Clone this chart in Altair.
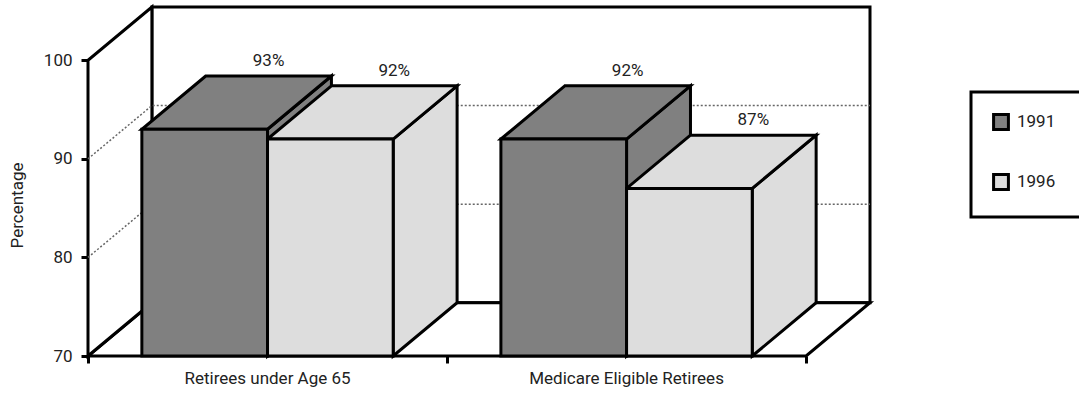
import altair as alt
import pandas as pd

# Survey values (percent of firms) per category and year
categories = ["Retirees under Age 65", "Medicare Eligible Retirees"]
years = ["1991", "1996"]
pct_1991 = [93, 92]
pct_1996 = [92, 87]
y_ticks = [70, 80, 90, 100]
grid_levels = [80, 90]
year_fills = ["#808080", "#dddddd"]

FONT = "Roboto"
FS = 17
TXT = "#222222"

# 3-D box geometry, in data units (x: category widths, y: percentage points)
Y_MIN, Y_MAX = 70, 100
DEPTH_X = 0.178
DEPTH_Y = 5.4
GAP = 0.15
BAR_W = 0.35
X_MAX = len(categories) + DEPTH_X

series = {"1991": pct_1991, "1996": pct_1996}

fronts, tops, sides, labels = [], [], [], []
for ci, cat in enumerate(categories):
    for yi, yr in enumerate(years):
        v = series[yr][ci]
        x0 = ci + GAP + yi * BAR_W
        x1 = x0 + BAR_W
        bid = f"{ci}-{yi}"
        fronts.append(dict(bar=bid, year=yr, x=x0, x2=x1, y=Y_MIN, y2=v))
        tops.append(dict(bar=bid, year=yr, y=v, x=x0, x2=x1))
        tops.append(dict(bar=bid, year=yr, y=v + DEPTH_Y, x=x0 + DEPTH_X, x2=x1 + DEPTH_X))
        sides.append(dict(bar=bid, year=yr, x=x1, y=v, y2=Y_MIN))
        sides.append(dict(bar=bid, year=yr, x=x1 + DEPTH_X, y=v + DEPTH_Y, y2=Y_MIN + DEPTH_Y))
        labels.append(dict(x=(x0 + x1) / 2 + DEPTH_X, y=v + DEPTH_Y, text=f"{v}%"))

df_front = pd.DataFrame(fronts)
df_top = pd.DataFrame(tops)
df_side = pd.DataFrame(sides)
df_lab = pd.DataFrame(labels)
df_cat = pd.DataFrame({"x": [i + 0.5 for i in range(len(categories))],
                       "y": [Y_MIN] * len(categories), "text": categories})

# walls and floor
df_back = pd.DataFrame([dict(x=DEPTH_X, x2=X_MAX, y=Y_MIN + DEPTH_Y, y2=Y_MAX + DEPTH_Y)])
df_floor = pd.DataFrame([dict(y=Y_MIN, x=0, x2=len(categories)),
                         dict(y=Y_MIN + DEPTH_Y, x=DEPTH_X, x2=X_MAX)])
df_wall = pd.DataFrame([dict(x=0, y=Y_MIN, y2=Y_MAX),
                        dict(x=DEPTH_X, y=Y_MIN + DEPTH_Y, y2=Y_MAX + DEPTH_Y)])
grid_rows = []
for g in grid_levels:
    grid_rows += [dict(g=g, o=0, x=0, y=g),
                  dict(g=g, o=1, x=DEPTH_X, y=g + DEPTH_Y),
                  dict(g=g, o=2, x=X_MAX, y=g + DEPTH_Y)]
df_grid = pd.DataFrame(grid_rows)

xs = alt.Scale(domain=[0, X_MAX], nice=False, zero=False)
ys = alt.Scale(domain=[Y_MIN, Y_MAX + DEPTH_Y], nice=False, zero=False)
cs = alt.Scale(domain=years, range=year_fills)

x_axis = alt.Axis(values=[0, 1, 2], labels=False, domain=False, grid=False, title=None,
                  tickSize=7, tickWidth=3, tickColor="black")
y_axis = alt.Axis(values=y_ticks, domain=False, grid=False, title="Percentage",
                  tickSize=7, tickWidth=3, tickColor="black",
                  labelFont=FONT, labelFontSize=FS, labelColor=TXT, labelPadding=9,
                  titleFont=FONT, titleFontSize=FS, titleFontWeight="normal", titleColor=TXT,
                  titleX=-71, titleY=198, titleAlign="center", titleBaseline="middle")

# the legend frame runs on past the right edge of the page: an empty title on the
# right with wide padding stretches it
legend = alt.Legend(title="\u00a0", titleOrient="right", titlePadding=90,
                    orient="none", legendX=883, legendY=85,
                    direction="vertical", columns=1)

STROKE = dict(stroke="black", strokeWidth=3)
color = alt.Color("year:N", scale=cs, legend=legend)

back = alt.Chart(df_back).mark_rect(fill="white", **STROKE).encode(
    x=alt.X("x:Q", scale=xs, axis=x_axis), x2="x2:Q",
    y=alt.Y("y:Q", scale=ys, axis=y_axis), y2="y2:Q")

floor = alt.Chart(df_floor).mark_area(orient="horizontal", fill="white", **STROKE).encode(
    y=alt.Y("y:Q", scale=ys), x=alt.X("x:Q", scale=xs, stack=None), x2="x2:Q")

wall = alt.Chart(df_wall).mark_area(orient="vertical", fill="white", **STROKE).encode(
    x=alt.X("x:Q", scale=xs), y=alt.Y("y:Q", scale=ys, stack=None), y2="y2:Q")

grid = alt.Chart(df_grid).mark_line(color="#666", strokeWidth=1.5, strokeDash=[2, 2]).encode(
    x=alt.X("x:Q", scale=xs), y=alt.Y("y:Q", scale=ys), detail="g:N", order="o:Q")

side = alt.Chart(df_side).mark_area(orient="vertical", **STROKE).encode(
    x=alt.X("x:Q", scale=xs), y=alt.Y("y:Q", scale=ys, stack=None), y2="y2:Q",
    detail="bar:N", color=color)

top = alt.Chart(df_top).mark_area(orient="horizontal", **STROKE).encode(
    y=alt.Y("y:Q", scale=ys), x=alt.X("x:Q", scale=xs, stack=None), x2="x2:Q",
    detail="bar:N", color=color)

front = alt.Chart(df_front).mark_rect(**STROKE).encode(
    x=alt.X("x:Q", scale=xs), x2="x2:Q", y=alt.Y("y:Q", scale=ys), y2="y2:Q",
    color=color)

vals = alt.Chart(df_lab).mark_text(font=FONT, fontSize=FS, color=TXT, dy=-15,
                                   baseline="middle").encode(
    x=alt.X("x:Q", scale=xs), y=alt.Y("y:Q", scale=ys), text="text:N")

cats = alt.Chart(df_cat).mark_text(font=FONT, fontSize=FS, color=TXT, dy=23,
                                   baseline="middle").encode(
    x=alt.X("x:Q", scale=xs), y=alt.Y("y:Q", scale=ys), text="text:N")

chart = alt.layer(back, floor, wall, grid, side, top, front, vals, cats).properties(
    width=782, height=349,
    autosize=alt.AutoSizeParams(type="none"),
    padding={"left": 88, "top": 7, "right": 209, "bottom": 39},
).configure_view(stroke=None).configure_legend(
    strokeColor="black", strokeWidth=3, padding=21, rowPadding=32,
    symbolType="square", symbolSize=220, symbolStrokeColor="black",
    symbolStrokeWidth=3, symbolOpacity=1,
    labelFont=FONT, labelFontSize=FS, labelColor=TXT, labelOffset=7,
    titleFont=FONT, titleFontSize=FS,
)

chart.save("out.html", embed_options={"renderer": "svg", "actions": False})
